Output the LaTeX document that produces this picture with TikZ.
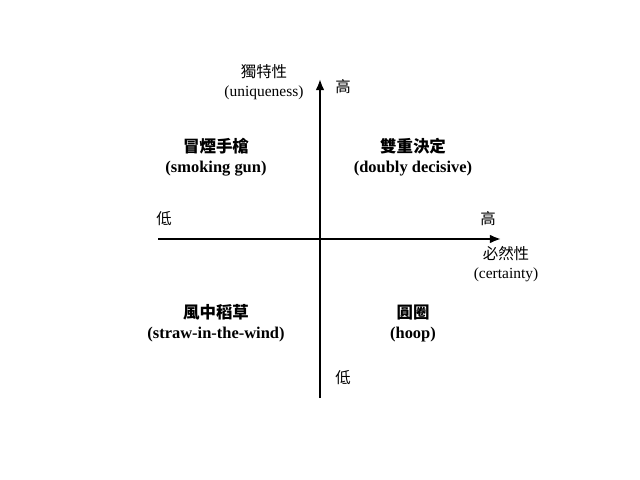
\documentclass[tikz,border=0pt]{standalone}
\usepackage{fontspec}
\setmainfont{Liberation Serif}
\newfontfamily\cjk{Noto Sans CJK TC}
\usetikzlibrary{arrows.meta}
\tikzset{
	axislabel/.style={font=\fontsize{11}{13.5}\selectfont, inner sep=1pt, align=center},
	caselabel/.style={font=\fontsize{11.7}{14.2}\selectfont\bfseries, inner sep=1pt, align=center},
	axisline/.style={line width=0.5mm, -{Latex[length=2.8mm, width=2.2mm]}}
}

\begin{document}
\begin{tikzpicture}[x=0.025cm, y=-0.025cm]
			%%%%% START %%%%%
			\useasboundingbox (0, 0) rectangle (640, 480);
			
			\coordinate (ybot) at (320, 398);
			\coordinate (ytop) at (320, 79);
			\coordinate (xleft) at (158, 239);
			\coordinate (xright) at (501, 239);
			
			\draw[axisline] (ybot) -- (ytop);
			\draw[axisline] (xleft) -- (xright);
			
			\node[axislabel] (uniq) at (264, 82) {{\cjk 獨特性}\\(uniqueness)};
			\node[axislabel] (yhigh) at (343, 87) {\cjk 高};
			\node[axislabel] (ylow) at (343, 378) {\cjk 低};
			\node[axislabel] (xlow) at (164, 219) {\cjk 低};
			\node[axislabel] (xhigh) at (488, 219) {\cjk 高};
			\node[axislabel] (cert) at (506, 264) {{\cjk 必然性}\\(certainty)};
			
			\node[caselabel] (smoking) at (216, 157) {{\cjk 冒煙手槍}\\(smoking gun)};
			\node[caselabel] (doubly) at (413, 157) {{\cjk 雙重決定}\\(doubly decisive)};
			\node[caselabel] (straw) at (216, 323) {{\cjk 風中稻草}\\(straw-in-the-wind)};
			\node[caselabel] (hoop) at (413, 323) {{\cjk 圓圈}\\(hoop)};
			%%%%% END %%%%%
\end{tikzpicture}
\end{document}
